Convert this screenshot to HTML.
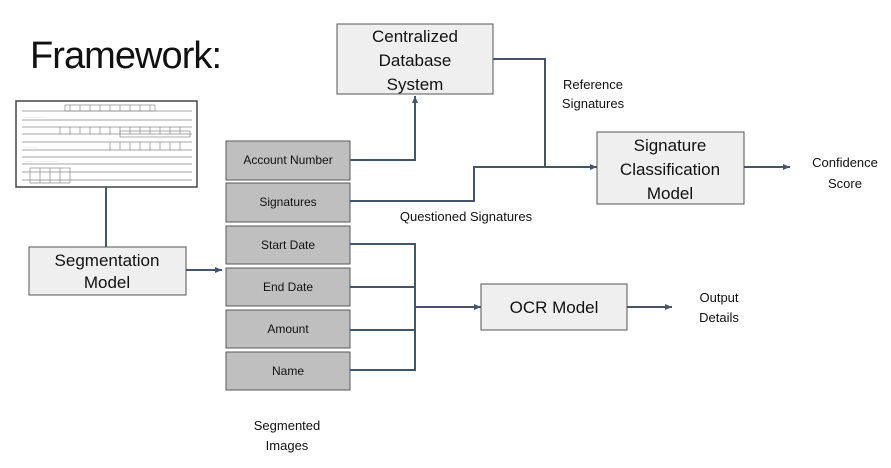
<!DOCTYPE html>
<html><head><style>
html,body{margin:0;padding:0;background:#fff;}
svg{display:block;font-family:"Liberation Sans",sans-serif;}
</style></head><body>
<svg width="891" height="468" viewBox="0 0 891 468" xmlns="http://www.w3.org/2000/svg">
<defs>
<marker id="a" markerWidth="8" markerHeight="8" refX="7" refY="4" orient="auto" markerUnits="userSpaceOnUse">
<path d="M0,1 L7,4 L0,7 z" fill="#44546a"/></marker>
</defs>
<text x="30" y="68" font-size="38" textLength="192" fill="#111">Framework:</text>

<!-- document image -->
<g>
<rect x="16" y="101" width="181" height="86" fill="#fff" stroke="#444" stroke-width="1.5"/>
<g stroke="#888" stroke-width="0.7" fill="none">
<line x1="22" y1="111" x2="192" y2="111"/><line x1="22" y1="120" x2="192" y2="120"/>
<line x1="22" y1="127" x2="192" y2="127"/><line x1="22" y1="134" x2="192" y2="134"/>
<line x1="22" y1="142" x2="192" y2="142"/><line x1="22" y1="150" x2="192" y2="150"/>
<line x1="22" y1="157" x2="192" y2="157"/><line x1="22" y1="164" x2="192" y2="164"/>
<line x1="22" y1="172" x2="192" y2="172"/><line x1="22" y1="180" x2="192" y2="180"/>
<rect x="65" y="105" width="90" height="6"/><rect x="120" y="131" width="70" height="6"/>
<rect x="30" y="168" width="40" height="15"/>
<path d="M70,105v6M80,105v6M90,105v6M100,105v6M110,105v6M120,105v6M130,105v6M140,105v6M150,105v6M60,127v7M70,127v7M80,127v7M90,127v7M100,127v7M110,127v7M120,127v7M130,127v7M140,127v7M150,127v7M160,127v7M170,127v7M180,127v7M110,142v8M120,142v8M130,142v8M140,142v8M150,142v8M160,142v8M170,142v8M180,142v8M40,168v15M50,168v15M60,168v15"/>
</g>
<g fill="#666" font-size="3">
<text x="24" y="118">...........................</text>
<text x="24" y="148">.................</text>
<text x="24" y="162">.........................................</text>
</g>
</g>
<line x1="106" y1="187" x2="106" y2="247" stroke="#44546a" stroke-width="2"/>
<rect x="29" y="247" width="157" height="48" fill="#efefef" stroke="#555" stroke-width="1"/>
<text x="107" y="266" font-size="17" text-anchor="middle" fill="#111">Segmentation</text>
<text x="107" y="288" font-size="17" text-anchor="middle" fill="#111">Model</text>
<line x1="186" y1="270" x2="222" y2="270" stroke="#44546a" stroke-width="2" marker-end="url(#a)"/>

<!-- gray boxes -->
<g fill="#bfbfbf" stroke="#595959" stroke-width="1">
<rect x="226" y="141" width="124" height="39"/>
<rect x="226" y="183" width="124" height="39"/>
<rect x="226" y="226" width="124" height="38"/>
<rect x="226" y="268" width="124" height="38"/>
<rect x="226" y="310" width="124" height="38"/>
<rect x="226" y="352" width="124" height="38"/>
</g>
<g font-size="12" text-anchor="middle" fill="#111">
<text x="288" y="164">Account Number</text>
<text x="288" y="206">Signatures</text>
<text x="288" y="249">Start Date</text>
<text x="288" y="291">End Date</text>
<text x="288" y="333">Amount</text>
<text x="288" y="375">Name</text>
</g>

<g stroke="#44546a" stroke-width="2" fill="none">
<polyline points="350,160 415,160 415,96" marker-end="url(#a)"/>
<polyline points="493,59 545,59 545,167"/>
<polyline points="350,201 474,201 474,167 597,167" marker-end="url(#a)"/>
<line x1="744" y1="167" x2="790" y2="167" marker-end="url(#a)"/>
<polyline points="350,244 415,244 415,370 350,370"/>
<line x1="350" y1="287" x2="415" y2="287"/>
<line x1="350" y1="330" x2="415" y2="330"/>
<line x1="415" y1="307" x2="481" y2="307" marker-end="url(#a)"/>
<line x1="627" y1="307" x2="672" y2="307" marker-end="url(#a)"/>
</g>

<rect x="337" y="24" width="156" height="70" fill="#efefef" stroke="#555" stroke-width="1"/>
<g font-size="17" text-anchor="middle" fill="#111">
<text x="415" y="42">Centralized</text>
<text x="415" y="66">Database</text>
<text x="415" y="90">System</text>
</g>
<rect x="597" y="132" width="147" height="72" fill="#efefef" stroke="#555" stroke-width="1"/>
<g font-size="17" text-anchor="middle" fill="#111">
<text x="670" y="151">Signature</text>
<text x="670" y="175">Classification</text>
<text x="670" y="199">Model</text>
</g>
<rect x="481" y="284" width="146" height="46" fill="#efefef" stroke="#555" stroke-width="1"/>
<text x="554" y="313" font-size="17" text-anchor="middle" fill="#111">OCR Model</text>

<g font-size="13" fill="#111" text-anchor="middle">
<text x="593" y="89">Reference</text>
<text x="593" y="108">Signatures</text>
<text x="466" y="221">Questioned Signatures</text>
<text x="845" y="167">Confidence</text>
<text x="845" y="188">Score</text>
<text x="719" y="302">Output</text>
<text x="719" y="322">Details</text>
<text x="287" y="430">Segmented</text>
<text x="287" y="450">Images</text>
</g>
</svg>
</body></html>
